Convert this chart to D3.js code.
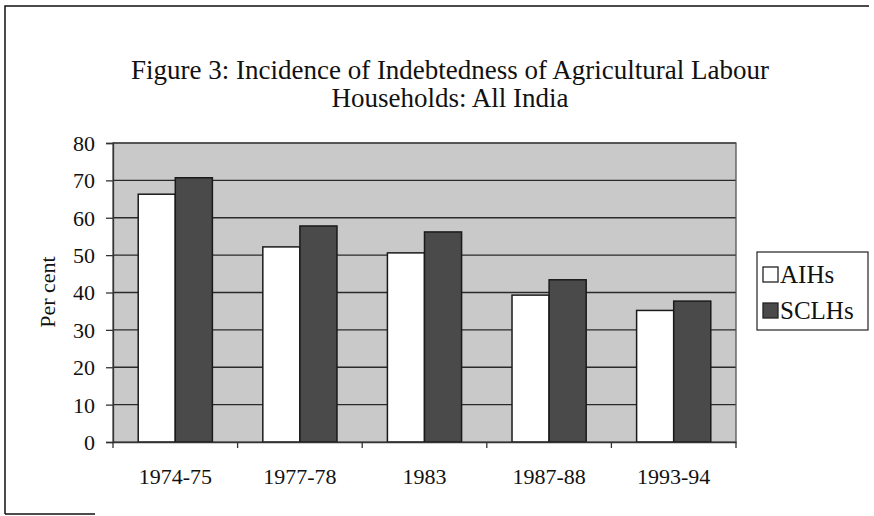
<!DOCTYPE html>
<html><head><meta charset="utf-8">
<script src="https://cdn.jsdelivr.net/npm/d3@7"></script>
<style>body{margin:0;background:#fff}svg{display:block}</style>
</head><body>
<svg id="c" width="874" height="516"></svg>
<script>
const categories = ["1974-75","1977-78","1983","1987-88","1993-94"];
const seriesNames = ["AIHs","SCLHs"];
const aihs = [66.3, 52.2, 50.6, 39.3, 35.2];
const sclhs = [70.7, 57.8, 56.2, 43.4, 37.7];
const yTicks = [0,10,20,30,40,50,60,70,80];
const titleLines = ["Figure 3: Incidence of Indebtedness of Agricultural Labour","Households: All India"];

const svg = d3.select("#c");
const font = "'Liberation Serif','Times New Roman',serif";
const L=113, R=736, T=143, B=442;

// outer frame
svg.append("path").attr("d","M5,514 L5,6 L869,6").attr("fill","none").attr("stroke","#111").attr("stroke-width",1.5);
svg.append("line").attr("x1",5).attr("x2",95).attr("y1",514).attr("y2",514).attr("stroke","#111").attr("stroke-width",1.5);

const x = d3.scaleBand().domain(categories).range([L,R]);
const xs = d3.scaleBand().domain(seriesNames).range([0, x.bandwidth()]).paddingInner(0).paddingOuter(0.68);
const y = d3.scaleLinear().domain([0,80]).range([B,T]);

svg.append("rect").attr("x",L).attr("y",T).attr("width",R-L).attr("height",B-T).attr("fill","#c9c9c9");
svg.append("g").selectAll("line").data(yTicks.filter(d=>d>0)).join("line")
  .attr("x1",L).attr("x2",R).attr("y1",d=>y(d)).attr("y2",d=>y(d)).attr("stroke","#2a2a2a").attr("stroke-width",1.3);
svg.append("rect").attr("x",L).attr("y",T).attr("width",R-L).attr("height",B-T).attr("fill","none").attr("stroke","#555").attr("stroke-width",1.3);

const data = categories.map((c,i)=>({c, v:[aihs[i], sclhs[i]]}));
const colors = ["#ffffff","#4a4a4a"];
const g = svg.append("g");
data.forEach(d=>{
  seriesNames.forEach((s,j)=>{
    g.append("rect").attr("x",x(d.c)+xs(s)).attr("y",y(d.v[j])).attr("width",xs.bandwidth()).attr("height",B-y(d.v[j]))
     .attr("fill",colors[j]).attr("stroke","#1a1a1a").attr("stroke-width",1.5);
  });
});

// y axis
const ya = svg.append("g").attr("transform",`translate(${L},0)`).call(d3.axisLeft(y).tickValues(yTicks).tickSize(7).tickPadding(11));
ya.selectAll("text").attr("font-family",font).attr("font-size",22).attr("fill","#111").attr("dy","0.34em");
ya.selectAll("line,path").attr("stroke","#333").attr("stroke-width",1.3);
// x axis
const xa = svg.append("g").attr("transform",`translate(0,${B})`).call(d3.axisBottom(x).tickSize(0).tickPadding(26));
xa.selectAll("text").attr("font-family",font).attr("font-size",22).attr("fill","#111");
xa.select("path").attr("stroke","#333").attr("stroke-width",1.3);
svg.append("g").selectAll("line").data(categories.concat(["end"])).join("line")
  .attr("x1",(d,i)=>i<categories.length?x(d):R).attr("x2",(d,i)=>i<categories.length?x(d):R)
  .attr("y1",B).attr("y2",B+6).attr("stroke","#333").attr("stroke-width",1.3);

// y label
svg.append("text").attr("transform","translate(55,292) rotate(-90)").attr("text-anchor","middle")
  .attr("font-family",font).attr("font-size",22).attr("fill","#111").text("Per cent");

// title
svg.append("g").selectAll("text").data(titleLines).join("text")
  .attr("x",450).attr("y",(d,i)=>79+i*28).attr("text-anchor","middle")
  .attr("font-family",font).attr("font-size",27).attr("fill","#111").text(d=>d);

// legend
const lg = svg.append("g");
lg.append("rect").attr("x",757).attr("y",252).attr("width",111).attr("height",78).attr("fill","#fff").attr("stroke","#222").attr("stroke-width",1.2);
seriesNames.forEach((s,j)=>{
  lg.append("rect").attr("x",763).attr("y",267+j*36).attr("width",15).attr("height",15).attr("fill",colors[j]).attr("stroke","#222").attr("stroke-width",1.3);
  lg.append("text").attr("x",780).attr("y",283+j*36).attr("font-family",font).attr("font-size",25).attr("fill","#111").text(s);
});
</script>
</body></html>
